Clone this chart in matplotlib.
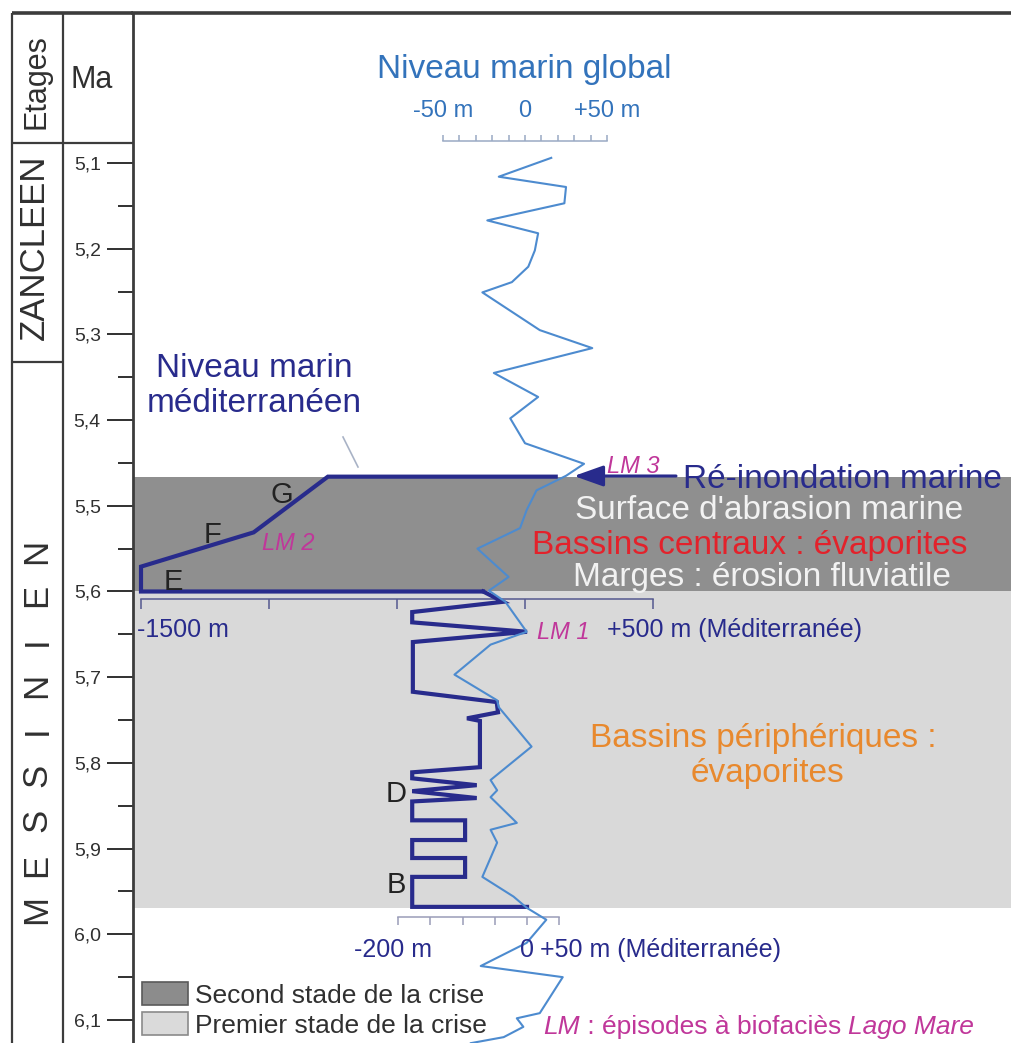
import matplotlib
matplotlib.use("Agg")
import matplotlib.pyplot as plt
from matplotlib.lines import Line2D
from matplotlib.patches import Rectangle

plt.rcParams['font.family'] = ['Liberation Sans', 'DejaVu Sans']

# ---------------- data ----------------
ma_ticks = [5.1, 5.2, 5.3, 5.4, 5.5, 5.6, 5.7, 5.8, 5.9, 6.0, 6.1]
ma_labels = ["5,1", "5,2", "5,3", "5,4", "5,5", "5,6", "5,7", "5,8", "5,9", "6,0", "6,1"]
ma_minor = [5.15, 5.25, 5.35, 5.45, 5.55, 5.65, 5.75, 5.85, 5.95, 6.05]

stage2_span = [5.466, 5.600]   # second stage of the crisis
stage1_span = [5.600, 5.969]   # first stage of the crisis

# global sea level (m) vs age (Ma)
glob_ma = [5.094, 5.116, 5.128, 5.147, 5.167, 5.182, 5.202, 5.221, 5.239, 5.251,
           5.295, 5.316, 5.345, 5.373, 5.398, 5.427, 5.451, 5.465, 5.482, 5.505,
           5.526, 5.550, 5.583, 5.599, 5.612, 5.647, 5.662, 5.697, 5.727, 5.735,
           5.781, 5.820, 5.832, 5.840, 5.870, 5.878, 5.893, 5.933, 5.956, 5.969,
           5.983, 6.010, 6.037, 6.050, 6.092, 6.098, 6.108, 6.120, 6.127]
glob_m = [16, -16, 25, 24, -23, 8, 6, 2, -8, -26,
          9, 41, -19, 8, -9, 0, 36, 25, 7, 1,
          -3, -29, -10, -22, -12, 1, -21, -43, -17, -16,
          4, -21, -17, -21, -5, -21, -17, -26, -7, 1,
          13, 1, -27, 23, 9, -5, -1, -13, -33]

# Mediterranean level, second stage (scale -1500 .. +500 m)
med_deep_ma = [5.466, 5.466, 5.531, 5.571, 5.600, 5.600]
med_deep_m = [120, -770, -1060, -1500, -1500, -164]

# Mediterranean level, first stage (scale -200 .. +50 m)
med_shallow_ma = [5.600, 5.612, 5.624, 5.636, 5.647, 5.659, 5.717, 5.729, 5.741, 5.748,
                  5.751, 5.805, 5.811, 5.818, 5.826, 5.833, 5.841, 5.845, 5.867, 5.867,
                  5.890, 5.890, 5.911, 5.911, 5.933, 5.933, 5.968, 5.968]
med_shallow_m = [-68, -37, -178, -178, 0, -177, -177, -47, -45, -93,
                 -73, -73, -178, -178, -78, -178, -78, -178, -178, -96,
                 -96, -178, -178, -96, -96, -178, -178, 0]

glob_scale_ticks = [-50, -40, -30, -20, -10, 0, 10, 20, 30, 40, 50]
glob_scale_lab_pos = [-50, 0, 50]
glob_scale_labels = ["-50 m", "0", "+50 m"]
deep_scale_ticks = [-1500, -1000, -500, 0, 500]
shallow_scale_ticks = [-200, -150, -100, -50, 0, 50]

# ---------------- styling ----------------
NAVY = '#282b8c'
GBLUE = '#4d8bcf'
TBLUE = '#3373bb'
MAG = '#c0379a'
DARKBAND = '#8f8f8f'
LIGHTBAND = '#d9d9d9'
FRAME = '#3c3c3c'
TXT = '#303030'

W, H = 1011, 1043
fig = plt.figure(figsize=(W / 100, H / 100), dpi=100)


def fx(px):
    return px / W


def fy(py):
    return 1 - py / H


def T(px, py, s, **kw):
    kw.setdefault('va', 'baseline')
    return fig.text(fx(px), fy(py), s, **kw)


Y_TOP, Y_BOT = 4.92497, 6.12684
ax = fig.add_axes([fx(133), 0, 1 - fx(133), fy(13)])
ax.set_ylim(Y_BOT, Y_TOP)
ax.set_xlim(-1531.25, 1898.4)

ax_sh = ax.twiny()
ax_sh.set_xlim(-610.9, 750.4)
ax_gl = ax.twiny()
ax_gl.set_xlim(-239.0, 296.3)
for a in (ax_sh, ax_gl):
    a.set_axis_off()

for s in ('right', 'bottom'):
    ax.spines[s].set_visible(False)
ax.spines['top'].set_linewidth(2.6)
ax.spines['top'].set_color(FRAME)
ax.spines['left'].set_linewidth(2.0)
ax.spines['left'].set_color(FRAME)

ax.set_yticks(ma_ticks)
ax.set_yticklabels(ma_labels)
ax.set_yticks(ma_minor, minor=True)
ax.tick_params(axis='y', which='major', length=18.7, width=1.4, color=TXT,
               pad=4.5, labelsize=14, labelcolor=TXT)
ax.tick_params(axis='y', which='minor', length=10.8, width=1.4, color=TXT)
ax.tick_params(axis='x', which='both', bottom=False, top=False,
               labelbottom=False, labeltop=False)

# bands
ax.axhspan(*stage2_span, facecolor=DARKBAND, edgecolor='none', zorder=0)
ax.axhspan(*stage1_span, facecolor=LIGHTBAND, edgecolor='none', zorder=0)

# scale bars
SC = '#55598f'
ys = 5.609
ax.plot([deep_scale_ticks[0], deep_scale_ticks[-1]], [ys, ys], color=SC, lw=1.1, zorder=2)
ax.vlines(deep_scale_ticks, ys, ys + 0.012, color=SC, lw=1.1, zorder=2)
ys2 = 5.980
ax_sh.plot([shallow_scale_ticks[0], shallow_scale_ticks[-1]], [ys2, ys2], color='#9a9cb8', lw=1.1)
ax_sh.vlines(shallow_scale_ticks, ys2, ys2 + 0.009, color='#9a9cb8', lw=1.1)
ys3 = 5.0743
ax_gl.plot([glob_scale_ticks[0], glob_scale_ticks[-1]], [ys3, ys3], color='#9aaac4', lw=1.1)
ax_gl.vlines(glob_scale_ticks, ys3 - 0.007, ys3, color='#9aaac4', lw=1.1)
for p, lab in zip(glob_scale_lab_pos, glob_scale_labels):
    ax_gl.text(p, 5.0462, lab, ha='center', va='baseline', fontsize=17, color=TBLUE)

# curves
ax.plot(med_deep_m, med_deep_ma, color=NAVY, lw=3.0, solid_joinstyle='miter', zorder=3)
ax_sh.plot(med_shallow_m, med_shallow_ma, color=NAVY, lw=3.0, solid_joinstyle='miter')
ax_gl.plot(glob_m, glob_ma, color=GBLUE, lw=1.5)

# arrow
fig.add_artist(matplotlib.patches.FancyArrowPatch(
    (fx(676), fy(476)), (fx(574), fy(476)), transform=fig.transFigure,
    arrowstyle='-|>,head_length=0.9,head_width=0.32', mutation_scale=20,
    color=NAVY, lw=2.2, shrinkA=0, shrinkB=0))

# leader line
fig.add_artist(Line2D([fx(343), fx(358)], [fy(437), fy(467)], color='#a9b3c6', lw=1.2))

# frame lines of the left columns
for xs, ysg, lw in [((12, 133), (13, 13), 2.6),
                    ((12, 12), (13, 1043), 1.6),
                    ((62.5, 62.5), (13, 1043), 1.6),
                    ((12, 133), (143, 143), 1.6),
                    ((12, 62.5), (362, 362), 1.6)]:
    fig.add_artist(Line2D([fx(xs[0]), fx(xs[1])], [fy(ysg[0]), fy(ysg[1])],
                          color=FRAME, lw=lw, solid_capstyle='butt'))

# left column texts
T(36, 82, "Etages", rotation=90, ha='center', va='center', fontsize=22, color=TXT)
T(92, 88, "Ma", ha='center', fontsize=22, color=TXT)
T(34, 247, "ZANCLEEN", rotation=90, ha='center', va='center', fontsize=25, color=TXT)
letters = list("MESSINIEN")
y0, y1 = 910, 551
for i, ch in enumerate(letters):
    T(37, y0 + (y1 - y0) * i / (len(letters) - 1), ch, rotation=90,
      ha='center', va='center', fontsize=25, color=TXT)

# main texts
T(524, 78, "Niveau marin global", ha='center', fontsize=24, color=TBLUE)
T(254, 377, "Niveau marin", ha='center', fontsize=24, color=NAVY)
T(254, 412, "méditerranéen", ha='center', fontsize=24, color=NAVY)
for s, x, y in [("G", 282, 503), ("F", 212, 543), ("E", 173, 590), ("D", 396, 802), ("B", 396, 893)]:
    T(x, y, s, ha='center', fontsize=21, color='#222222')
for s, x, y in [("LM 2", 262, 550), ("LM 3", 607, 473), ("LM 1", 537, 639)]:
    T(x, y, s, ha='left', fontsize=17, color=MAG, style='italic')
T(683, 488, "Ré-inondation marine", ha='left', fontsize=24, color=NAVY)
T(769, 519, "Surface d'abrasion marine", ha='center', fontsize=24, color='#f2f2f2')
T(750, 554, "Bassins centraux : évaporites", ha='center', fontsize=24, color='#e3222b')
T(762, 586, "Marges : érosion fluviatile", ha='center', fontsize=24, color='#f2f2f2')
T(137, 637, "-1500 m", ha='left', fontsize=18, color=NAVY)
T(607, 637, "+500 m (Méditerranée)", ha='left', fontsize=18, color=NAVY)
T(763, 747, "Bassins périphériques :", ha='center', fontsize=24, color='#e8892e')
T(768, 782, "évaporites", ha='center', fontsize=24, color='#e8892e')
T(393, 957, "-200 m", ha='center', fontsize=18, color=NAVY)
T(527, 957, "0", ha='center', fontsize=18, color=NAVY)
T(540, 957, "+50 m (Méditerranée)", ha='left', fontsize=18, color=NAVY)

# legend
fig.add_artist(Rectangle((fx(142), fy(1005)), 46 / W, 23 / H, transform=fig.transFigure,
                         facecolor='#8c8c8c', edgecolor='#5a5a5a', lw=1.2))
fig.add_artist(Rectangle((fx(142), fy(1035)), 46 / W, 23 / H, transform=fig.transFigure,
                         facecolor='#dadada', edgecolor='#8a8a8a', lw=1.2))
T(195, 1003, "Second stade de la crise", ha='left', fontsize=19, color=TXT)
T(195, 1033, "Premier stade de la crise", ha='left', fontsize=19, color=TXT)

t1 = T(543, 1034, "LM", ha='left', fontsize=19, color=MAG, style='italic')
t2 = fig.text(0, 0, "", fontsize=19)
t2.remove()
a1 = ax.annotate(" : épisodes à biofaciès ", xy=(1, 0), xycoords=t1, ha='left', va='bottom',
                 fontsize=19, color=MAG, annotation_clip=False)
a2 = ax.annotate("Lago Mare", xy=(1, 0), xycoords=a1, ha='left', va='bottom',
                 fontsize=19, color=MAG, style='italic', annotation_clip=False)

fig.savefig("out.png", dpi=100)
